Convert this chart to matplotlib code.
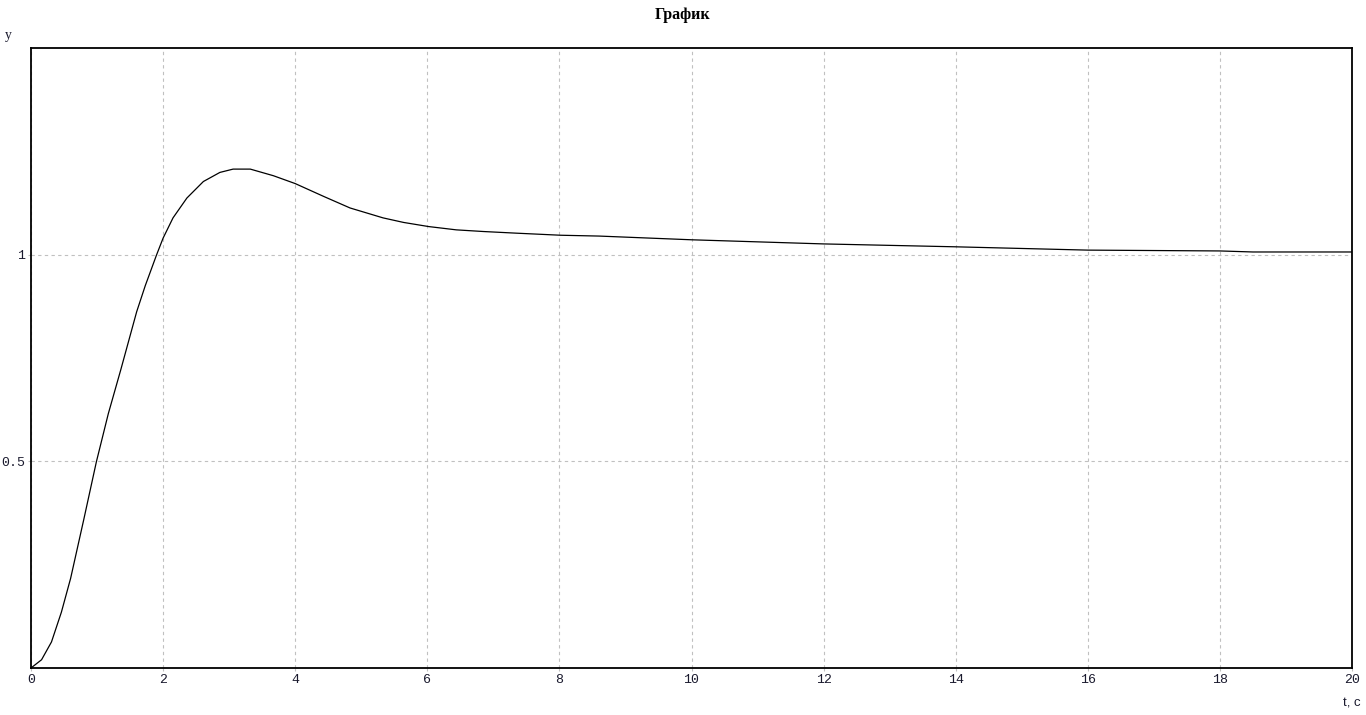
import matplotlib
matplotlib.use('Agg')
import matplotlib.pyplot as plt

# step response
t = [0.0, 0.16, 0.31, 0.46, 0.60, 0.80, 0.99, 1.17, 1.36, 1.60, 1.73,
     1.90, 2.0, 2.15, 2.36, 2.61, 2.86, 3.06, 3.32, 3.67, 4.0, 4.43, 4.83, 5.33,
     5.64, 6.02, 6.44, 6.85, 7.35, 8.02, 8.6, 10.0, 12.0, 14.0, 16.0, 18.0, 18.5, 20.0]
y = [0.0, 0.02, 0.063, 0.135, 0.217, 0.36, 0.499, 0.615, 0.722, 0.862, 0.925,
     0.999, 1.040, 1.089, 1.137, 1.177, 1.199, 1.207, 1.207, 1.191, 1.172, 1.141, 1.113, 1.089,
     1.078, 1.068, 1.060, 1.056, 1.052, 1.047, 1.045, 1.036, 1.026, 1.019, 1.011, 1.009, 1.0065, 1.0065]

x_ticks = [0, 2, 4, 6, 8, 10, 12, 14, 16, 18, 20]
y_ticks = [0.5, 1]
y_labels = ['0.5', '1']

title = 'График'
xlabel = 't, c'
ylabel = 'y'

W, H = 1366, 715
fig = plt.figure(figsize=(W / 100, H / 100), dpi=100)
ax = fig.add_axes([31 / W, (H - 668) / H, (1352 - 31) / W, (668 - 48) / H])

ax.plot(t, y, color='black', linewidth=0.9)

ax.set_xlim(0, 20)
ax.set_ylim(0, 1.5)
ax.set_xticks(x_ticks)
ax.set_yticks(y_ticks)
ax.set_yticklabels(y_labels)
ax.grid(True, color='#c0c0c0', linestyle=(0, (3, 3)), linewidth=0.8)
ax.tick_params(length=2, color='#c0c0c0', labelsize=9.5, pad=2, labelcolor='#1a1a2e')
for lbl in ax.get_xticklabels() + ax.get_yticklabels():
    lbl.set_family(['Liberation Mono', 'DejaVu Sans Mono'])
for s in ax.spines.values():
    s.set_linewidth(1.3)
    s.set_color('black')

fig.text(683 / W, 1 - 15 / H, title, ha='center', va='center', fontsize=11.5,
         fontweight='bold', family=['Liberation Serif', 'DejaVu Serif'])
fig.text(5 / W, 1 - 35 / H, ylabel, ha='left', va='center', fontsize=10,
         family=['Liberation Serif', 'DejaVu Serif'], color='#1a1a2e')
fig.text(1361 / W, 1 - 703 / H, xlabel, ha='right', va='center', fontsize=9.5,
         family=['Liberation Sans', 'DejaVu Sans'], color='#1a1a2e')

fig.savefig('out.png', dpi=100)
